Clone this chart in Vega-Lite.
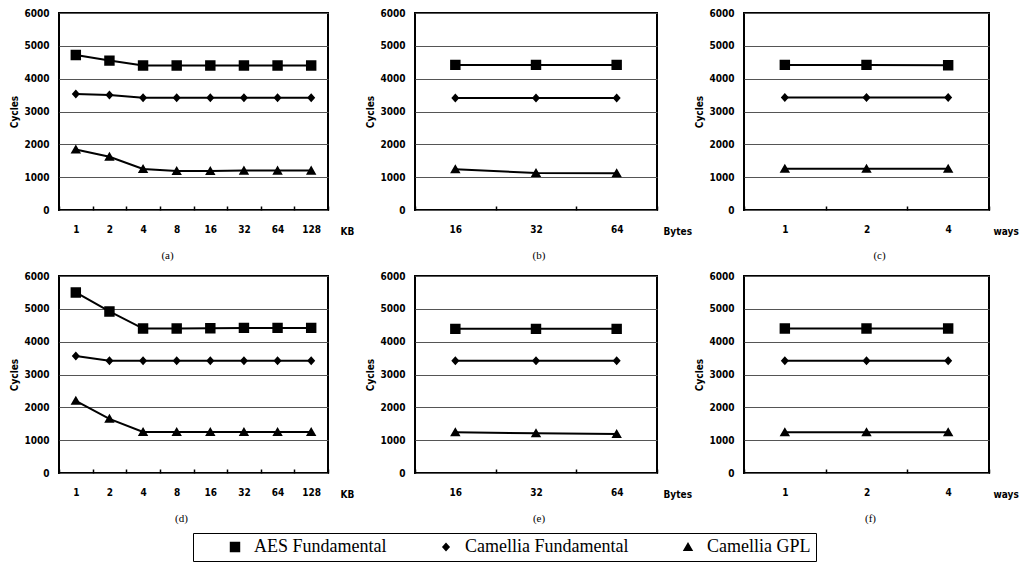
{
  "$schema": "https://vega.github.io/schema/vega-lite/v6.json",
  "background": "white",
  "padding": {"left": 8, "top": 7, "right": 5, "bottom": 5},
  "datasets": {
    "cycles": [
      {"panel": "a", "x": "1", "series": "AES Fundamental", "cycles": 4720},
      {"panel": "a", "x": "2", "series": "AES Fundamental", "cycles": 4550},
      {"panel": "a", "x": "4", "series": "AES Fundamental", "cycles": 4400},
      {"panel": "a", "x": "8", "series": "AES Fundamental", "cycles": 4400},
      {"panel": "a", "x": "16", "series": "AES Fundamental", "cycles": 4400},
      {"panel": "a", "x": "32", "series": "AES Fundamental", "cycles": 4400},
      {"panel": "a", "x": "64", "series": "AES Fundamental", "cycles": 4400},
      {"panel": "a", "x": "128", "series": "AES Fundamental", "cycles": 4400},
      {"panel": "a", "x": "1", "series": "Camellia Fundamental", "cycles": 3530},
      {"panel": "a", "x": "2", "series": "Camellia Fundamental", "cycles": 3500},
      {"panel": "a", "x": "4", "series": "Camellia Fundamental", "cycles": 3420},
      {"panel": "a", "x": "8", "series": "Camellia Fundamental", "cycles": 3420},
      {"panel": "a", "x": "16", "series": "Camellia Fundamental", "cycles": 3420},
      {"panel": "a", "x": "32", "series": "Camellia Fundamental", "cycles": 3420},
      {"panel": "a", "x": "64", "series": "Camellia Fundamental", "cycles": 3420},
      {"panel": "a", "x": "128", "series": "Camellia Fundamental", "cycles": 3420},
      {"panel": "a", "x": "1", "series": "Camellia GPL", "cycles": 1840},
      {"panel": "a", "x": "2", "series": "Camellia GPL", "cycles": 1620},
      {"panel": "a", "x": "4", "series": "Camellia GPL", "cycles": 1250},
      {"panel": "a", "x": "8", "series": "Camellia GPL", "cycles": 1190},
      {"panel": "a", "x": "16", "series": "Camellia GPL", "cycles": 1190},
      {"panel": "a", "x": "32", "series": "Camellia GPL", "cycles": 1200},
      {"panel": "a", "x": "64", "series": "Camellia GPL", "cycles": 1200},
      {"panel": "a", "x": "128", "series": "Camellia GPL", "cycles": 1200},
      {"panel": "b", "x": "16", "series": "AES Fundamental", "cycles": 4420},
      {"panel": "b", "x": "32", "series": "AES Fundamental", "cycles": 4420},
      {"panel": "b", "x": "64", "series": "AES Fundamental", "cycles": 4420},
      {"panel": "b", "x": "16", "series": "Camellia Fundamental", "cycles": 3410},
      {"panel": "b", "x": "32", "series": "Camellia Fundamental", "cycles": 3410},
      {"panel": "b", "x": "64", "series": "Camellia Fundamental", "cycles": 3410},
      {"panel": "b", "x": "16", "series": "Camellia GPL", "cycles": 1240},
      {"panel": "b", "x": "32", "series": "Camellia GPL", "cycles": 1130},
      {"panel": "b", "x": "64", "series": "Camellia GPL", "cycles": 1120},
      {"panel": "c", "x": "1", "series": "AES Fundamental", "cycles": 4420},
      {"panel": "c", "x": "2", "series": "AES Fundamental", "cycles": 4420},
      {"panel": "c", "x": "4", "series": "AES Fundamental", "cycles": 4410},
      {"panel": "c", "x": "1", "series": "Camellia Fundamental", "cycles": 3430},
      {"panel": "c", "x": "2", "series": "Camellia Fundamental", "cycles": 3430},
      {"panel": "c", "x": "4", "series": "Camellia Fundamental", "cycles": 3430},
      {"panel": "c", "x": "1", "series": "Camellia GPL", "cycles": 1260},
      {"panel": "c", "x": "2", "series": "Camellia GPL", "cycles": 1260},
      {"panel": "c", "x": "4", "series": "Camellia GPL", "cycles": 1260},
      {"panel": "d", "x": "1", "series": "AES Fundamental", "cycles": 5500},
      {"panel": "d", "x": "2", "series": "AES Fundamental", "cycles": 4920},
      {"panel": "d", "x": "4", "series": "AES Fundamental", "cycles": 4400},
      {"panel": "d", "x": "8", "series": "AES Fundamental", "cycles": 4400},
      {"panel": "d", "x": "16", "series": "AES Fundamental", "cycles": 4410},
      {"panel": "d", "x": "32", "series": "AES Fundamental", "cycles": 4420},
      {"panel": "d", "x": "64", "series": "AES Fundamental", "cycles": 4420},
      {"panel": "d", "x": "128", "series": "AES Fundamental", "cycles": 4420},
      {"panel": "d", "x": "1", "series": "Camellia Fundamental", "cycles": 3560},
      {"panel": "d", "x": "2", "series": "Camellia Fundamental", "cycles": 3420},
      {"panel": "d", "x": "4", "series": "Camellia Fundamental", "cycles": 3420},
      {"panel": "d", "x": "8", "series": "Camellia Fundamental", "cycles": 3420},
      {"panel": "d", "x": "16", "series": "Camellia Fundamental", "cycles": 3420},
      {"panel": "d", "x": "32", "series": "Camellia Fundamental", "cycles": 3420},
      {"panel": "d", "x": "64", "series": "Camellia Fundamental", "cycles": 3420},
      {"panel": "d", "x": "128", "series": "Camellia Fundamental", "cycles": 3420},
      {"panel": "d", "x": "1", "series": "Camellia GPL", "cycles": 2200},
      {"panel": "d", "x": "2", "series": "Camellia GPL", "cycles": 1650},
      {"panel": "d", "x": "4", "series": "Camellia GPL", "cycles": 1250},
      {"panel": "d", "x": "8", "series": "Camellia GPL", "cycles": 1250},
      {"panel": "d", "x": "16", "series": "Camellia GPL", "cycles": 1250},
      {"panel": "d", "x": "32", "series": "Camellia GPL", "cycles": 1250},
      {"panel": "d", "x": "64", "series": "Camellia GPL", "cycles": 1250},
      {"panel": "d", "x": "128", "series": "Camellia GPL", "cycles": 1250},
      {"panel": "e", "x": "16", "series": "AES Fundamental", "cycles": 4390},
      {"panel": "e", "x": "32", "series": "AES Fundamental", "cycles": 4390},
      {"panel": "e", "x": "64", "series": "AES Fundamental", "cycles": 4390},
      {"panel": "e", "x": "16", "series": "Camellia Fundamental", "cycles": 3420},
      {"panel": "e", "x": "32", "series": "Camellia Fundamental", "cycles": 3420},
      {"panel": "e", "x": "64", "series": "Camellia Fundamental", "cycles": 3420},
      {"panel": "e", "x": "16", "series": "Camellia GPL", "cycles": 1240},
      {"panel": "e", "x": "32", "series": "Camellia GPL", "cycles": 1210},
      {"panel": "e", "x": "64", "series": "Camellia GPL", "cycles": 1190},
      {"panel": "f", "x": "1", "series": "AES Fundamental", "cycles": 4400},
      {"panel": "f", "x": "2", "series": "AES Fundamental", "cycles": 4400},
      {"panel": "f", "x": "4", "series": "AES Fundamental", "cycles": 4400},
      {"panel": "f", "x": "1", "series": "Camellia Fundamental", "cycles": 3420},
      {"panel": "f", "x": "2", "series": "Camellia Fundamental", "cycles": 3420},
      {"panel": "f", "x": "4", "series": "Camellia Fundamental", "cycles": 3420},
      {"panel": "f", "x": "1", "series": "Camellia GPL", "cycles": 1240},
      {"panel": "f", "x": "2", "series": "Camellia GPL", "cycles": 1240},
      {"panel": "f", "x": "4", "series": "Camellia GPL", "cycles": 1240}
    ]
  },
  "data": {"name": "cycles"},
  "columns": 3,
  "spacing": {"row": 66, "column": 87},
  "bounds": "flush",
  "resolve": {"scale": {"x": "independent", "y": "shared", "shape": "shared"}, "legend": {"shape": "shared"}},
  "concat": [
    {
      "width": 269, "height": 197,
      "transform": [{"filter": "datum.panel === 'a'"}],
      "title": {"text": "(a)", "dx": -26},
      "encoding": {
        "x": {"field": "x", "type": "ordinal", "sort": ["1","2","4","8","16","32","64","128"], "scale": {"type": "band", "paddingInner": 0, "paddingOuter": 0}, "axis": {"title": "KB", "titleX": 281}},
        "y": {"field": "cycles", "type": "quantitative", "scale": {"domain": [0, 6000]}, "axis": {"title": "Cycles", "values": [0,1000,2000,3000,4000,5000,6000]}}
      },
      "layer": [
        {"mark": {"type": "line", "color": "black", "strokeWidth": 2}, "encoding": {"detail": {"field": "series"}}},
        {"mark": {"type": "point", "filled": true, "fill": "black", "stroke": "black", "opacity": 1, "size": 90, "strokeWidth": 0},
         "encoding": {
           "shape": {"field": "series", "type": "nominal", "scale": {"domain": ["AES Fundamental","Camellia Fundamental","Camellia GPL"], "range": ["M-3.7,0H3.7M-1.1,-1.1H1.1V1.1H-1.1Z","M-3.7,0H3.7M0,-0.95L0.85,0L0,0.95L-0.85,0Z","M-3.7,0H3.7M0,-1.05L1.1,0.85H-1.1Z"]},
             "legend": {"orient": "none", "legendX": 134, "legendY": 520, "direction": "horizontal", "title": null,
               "encode": {"symbols": {"stroke": {"value": "black"}, "strokeWidth": {"value": 1.5}, "fill": {"value": "black"}}}}}
         }}
      ]
    },
    {
      "width": 242, "height": 197,
      "transform": [{"filter": "datum.panel === 'b'"}],
      "title": {"text": "(b)", "dx": 3},
      "encoding": {
        "x": {"field": "x", "type": "ordinal", "sort": ["16","32","64"], "scale": {"type": "band", "paddingInner": 0, "paddingOuter": 0}, "axis": {"title": "Bytes", "titleX": 248}},
        "y": {"field": "cycles", "type": "quantitative", "scale": {"domain": [0, 6000]}, "axis": {"title": "Cycles", "values": [0,1000,2000,3000,4000,5000,6000]}}
      },
      "layer": [
        {"mark": {"type": "line", "color": "black", "strokeWidth": 2}, "encoding": {"detail": {"field": "series"}}},
        {"mark": {"type": "point", "filled": true, "fill": "black", "stroke": "black", "opacity": 1, "size": 90, "strokeWidth": 0},
         "encoding": {
           "shape": {"field": "series", "type": "nominal", "scale": {"domain": ["AES Fundamental","Camellia Fundamental","Camellia GPL"], "range": ["M-3.7,0H3.7M-1.1,-1.1H1.1V1.1H-1.1Z","M-3.7,0H3.7M0,-0.95L0.85,0L0,0.95L-0.85,0Z","M-3.7,0H3.7M0,-1.05L1.1,0.85H-1.1Z"]},
             "legend": {"orient": "none", "legendX": 134, "legendY": 520, "direction": "horizontal", "title": null,
               "encode": {"symbols": {"stroke": {"value": "black"}, "strokeWidth": {"value": 1.5}, "fill": {"value": "black"}}}}}
         }}
      ]
    },
    {
      "width": 245, "height": 197,
      "transform": [{"filter": "datum.panel === 'c'"}],
      "title": {"text": "(c)", "dx": 13},
      "encoding": {
        "x": {"field": "x", "type": "ordinal", "sort": ["1","2","4"], "scale": {"type": "band", "paddingInner": 0, "paddingOuter": 0}, "axis": {"title": "ways", "titleX": 249}},
        "y": {"field": "cycles", "type": "quantitative", "scale": {"domain": [0, 6000]}, "axis": {"title": "Cycles", "values": [0,1000,2000,3000,4000,5000,6000]}}
      },
      "layer": [
        {"mark": {"type": "line", "color": "black", "strokeWidth": 2}, "encoding": {"detail": {"field": "series"}}},
        {"mark": {"type": "point", "filled": true, "fill": "black", "stroke": "black", "opacity": 1, "size": 90, "strokeWidth": 0},
         "encoding": {
           "shape": {"field": "series", "type": "nominal", "scale": {"domain": ["AES Fundamental","Camellia Fundamental","Camellia GPL"], "range": ["M-3.7,0H3.7M-1.1,-1.1H1.1V1.1H-1.1Z","M-3.7,0H3.7M0,-0.95L0.85,0L0,0.95L-0.85,0Z","M-3.7,0H3.7M0,-1.05L1.1,0.85H-1.1Z"]},
             "legend": {"orient": "none", "legendX": 134, "legendY": 520, "direction": "horizontal", "title": null,
               "encode": {"symbols": {"stroke": {"value": "black"}, "strokeWidth": {"value": 1.5}, "fill": {"value": "black"}}}}}
         }}
      ]
    },
    {
      "width": 269, "height": 196,
      "transform": [{"filter": "datum.panel === 'd'"}],
      "title": {"text": "(d)", "dx": -12},
      "encoding": {
        "x": {"field": "x", "type": "ordinal", "sort": ["1","2","4","8","16","32","64","128"], "scale": {"type": "band", "paddingInner": 0, "paddingOuter": 0}, "axis": {"title": "KB", "titleX": 281}},
        "y": {"field": "cycles", "type": "quantitative", "scale": {"domain": [0, 6000]}, "axis": {"title": "Cycles", "values": [0,1000,2000,3000,4000,5000,6000]}}
      },
      "layer": [
        {"mark": {"type": "line", "color": "black", "strokeWidth": 2}, "encoding": {"detail": {"field": "series"}}},
        {"mark": {"type": "point", "filled": true, "fill": "black", "stroke": "black", "opacity": 1, "size": 90, "strokeWidth": 0},
         "encoding": {
           "shape": {"field": "series", "type": "nominal", "scale": {"domain": ["AES Fundamental","Camellia Fundamental","Camellia GPL"], "range": ["M-3.7,0H3.7M-1.1,-1.1H1.1V1.1H-1.1Z","M-3.7,0H3.7M0,-0.95L0.85,0L0,0.95L-0.85,0Z","M-3.7,0H3.7M0,-1.05L1.1,0.85H-1.1Z"]},
             "legend": {"orient": "none", "legendX": 134, "legendY": 520, "direction": "horizontal", "title": null,
               "encode": {"symbols": {"stroke": {"value": "black"}, "strokeWidth": {"value": 1.5}, "fill": {"value": "black"}}}}}
         }}
      ]
    },
    {
      "width": 242, "height": 196,
      "transform": [{"filter": "datum.panel === 'e'"}],
      "title": {"text": "(e)", "dx": 3},
      "encoding": {
        "x": {"field": "x", "type": "ordinal", "sort": ["16","32","64"], "scale": {"type": "band", "paddingInner": 0, "paddingOuter": 0}, "axis": {"title": "Bytes", "titleX": 248}},
        "y": {"field": "cycles", "type": "quantitative", "scale": {"domain": [0, 6000]}, "axis": {"title": "Cycles", "values": [0,1000,2000,3000,4000,5000,6000]}}
      },
      "layer": [
        {"mark": {"type": "line", "color": "black", "strokeWidth": 2}, "encoding": {"detail": {"field": "series"}}},
        {"mark": {"type": "point", "filled": true, "fill": "black", "stroke": "black", "opacity": 1, "size": 90, "strokeWidth": 0},
         "encoding": {
           "shape": {"field": "series", "type": "nominal", "scale": {"domain": ["AES Fundamental","Camellia Fundamental","Camellia GPL"], "range": ["M-3.7,0H3.7M-1.1,-1.1H1.1V1.1H-1.1Z","M-3.7,0H3.7M0,-0.95L0.85,0L0,0.95L-0.85,0Z","M-3.7,0H3.7M0,-1.05L1.1,0.85H-1.1Z"]},
             "legend": {"orient": "none", "legendX": 134, "legendY": 520, "direction": "horizontal", "title": null,
               "encode": {"symbols": {"stroke": {"value": "black"}, "strokeWidth": {"value": 1.5}, "fill": {"value": "black"}}}}}
         }}
      ]
    },
    {
      "width": 245, "height": 196,
      "transform": [{"filter": "datum.panel === 'f'"}],
      "title": {"text": "(f)", "dx": 4},
      "encoding": {
        "x": {"field": "x", "type": "ordinal", "sort": ["1","2","4"], "scale": {"type": "band", "paddingInner": 0, "paddingOuter": 0}, "axis": {"title": "ways", "titleX": 249}},
        "y": {"field": "cycles", "type": "quantitative", "scale": {"domain": [0, 6000]}, "axis": {"title": "Cycles", "values": [0,1000,2000,3000,4000,5000,6000]}}
      },
      "layer": [
        {"mark": {"type": "line", "color": "black", "strokeWidth": 2}, "encoding": {"detail": {"field": "series"}}},
        {"mark": {"type": "point", "filled": true, "fill": "black", "stroke": "black", "opacity": 1, "size": 90, "strokeWidth": 0},
         "encoding": {
           "shape": {"field": "series", "type": "nominal", "scale": {"domain": ["AES Fundamental","Camellia Fundamental","Camellia GPL"], "range": ["M-3.7,0H3.7M-1.1,-1.1H1.1V1.1H-1.1Z","M-3.7,0H3.7M0,-0.95L0.85,0L0,0.95L-0.85,0Z","M-3.7,0H3.7M0,-1.05L1.1,0.85H-1.1Z"]},
             "legend": {"orient": "none", "legendX": 134, "legendY": 520, "direction": "horizontal", "title": null,
               "encode": {"symbols": {"stroke": {"value": "black"}, "strokeWidth": {"value": 1.5}, "fill": {"value": "black"}}}}}
         }}
      ]
    }
  ],
  "config": {
    "view": {"stroke": "black", "strokeWidth": 2},
    "axis": {"labelFont": "DejaVu Sans Condensed", "labelFontWeight": "bold", "labelFontSize": 10, "labelColor": "black", "titleFont": "DejaVu Sans Condensed", "titleFontWeight": "bold", "titleFontSize": 10, "titleColor": "black", "domain": false, "ticks": false, "grid": false},
    "axisY": {"grid": true, "gridColor": "#555555", "gridWidth": 1, "labelPadding": 10, "titlePadding": 4, "format": "d"},
    "axisX": {"labelAngle": 0, "labelPadding": 18, "titleAlign": "left", "titleBaseline": "middle", "titleY": 21, "ticks": true, "tickBand": "extent", "tickSize": -4, "tickColor": "black", "tickWidth": 1.5},
    "title": {"orient": "bottom", "offset": 14, "baseline": "middle", "font": "Liberation Serif", "fontSize": 11, "fontWeight": "normal", "color": "black", "anchor": "middle"},
    "legend": {"labelFont": "Liberation Serif", "labelFontSize": 18, "labelColor": "black", "labelOffset": 10, "labelLimit": 400, "symbolSize": 90, "symbolOffset": 28, "columnPadding": 22, "padding": 5, "strokeColor": "black", "symbolFillColor": "black", "symbolStrokeColor": "black", "symbolOpacity": 1, "symbolStrokeWidth": 1.5}
  }
}
